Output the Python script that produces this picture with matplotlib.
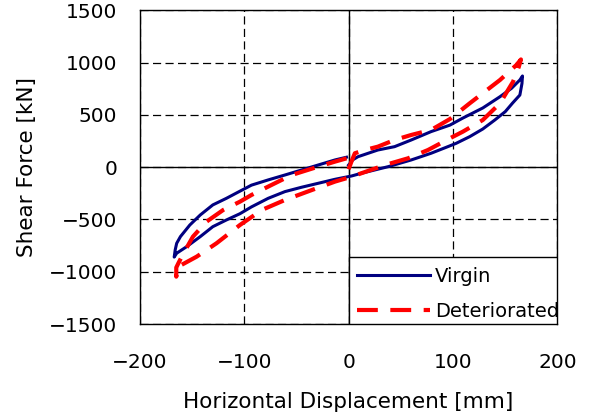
import matplotlib
matplotlib.use('Agg')
import matplotlib.pyplot as plt
from matplotlib.patches import Rectangle

# -----------------
# DATA
# ------------------
# Virgin - start v nule, nahoru doprava, dolni vetev doleva, zpet k nule
virgin_x = [0, 4, 9, 28, 44, 60, 79, 97, 109.5, 128.5, 145, 156, 164, 166.5,
            166, 164, 157, 150, 140, 128.5, 116, 103, 95, 79, 60, 38, 12, 3,
            -13, -29, -45, -61, -77, -93, -104, -117, -130, -142, -155, -164.6, -167,
            -166, -164.6, -161, -152, -142, -130, -117, -106, -93, -77, -61, -45,
            -29, -13, -2]
virgin_y = [20, 70, 100, 164, 196, 260, 340, 402, 470, 566, 674, 754, 834, 872,
            800, 690, 613, 531, 451, 365, 292, 228, 196, 133, 69, 5, -59, -84,
            -116, -154, -192, -234, -298, -380, -445, -505, -569, -664, -760, -823, -860,
            -790, -728, -664, -553, -457, -361, -298, -240, -172, -122, -75, -27,
            21, 69, 95]

# Deteriorated
deter_x = [0, 3, 6, 15.6, 28, 44, 60, 79, 97, 116, 128.5, 145, 160.7, 165,
           163, 157.5, 145, 128.5, 109.5, 97, 76, 57, 35, 12, 3, -13, -35, -61,
           -83, -104, -126.5, -145.5, -163, -165,
           -165, -163, -158, -149, -136, -120, -104, -93, -77, -54.5, -29, -13, 0]
deter_y = [-20, 60, 133, 164, 196, 260, 308, 356, 460, 611, 707, 834, 977, 1030,
           960, 818, 611, 451, 340, 276, 164, 85, 21, -59, -91, -138, -218, -314,
           -409, -553, -728, -856, -951, -1047,
           -960, -919, -823, -664, -521, -409, -330, -266, -186, -75, 5, 53, 90]

x_ticks = [-200, -100, 0, 100, 200]
y_ticks = [-1500, -1000, -500, 0, 500, 1000, 1500]

plt.rcParams['font.family'] = ['DejaVu Sans']

fig = plt.figure(figsize=(6.03, 4.19), dpi=100)
ax = fig.add_axes([0.2317, 0.2267, 0.6928, 0.7487])

# mrizka - carkovana, nuly plnou carou
for xv in x_ticks:
    ax.axvline(xv, color='black', lw=0.9, ls=(0, (6.5, 3.5)), zorder=1)
for yv in y_ticks:
    ax.axhline(yv, color='black', lw=0.9, ls=(0, (6.5, 3.5)), zorder=1)
ax.axvline(0, color='black', lw=1.0, zorder=1.5)
ax.axhline(0, color='black', lw=1.0, zorder=1.5)

ax.plot(virgin_x, virgin_y, color='#000080', lw=2.2, label='Virgin', zorder=3)
ax.plot(deter_x, deter_y, color='#FF0000', lw=3.0, ls=(0, (5, 3)),
        label='Deteriorated', zorder=4)

ax.set_xlim(-200, 200)
ax.set_ylim(-1500, 1500)
ax.set_xticks(x_ticks)
ax.set_yticks(y_ticks)
ax.tick_params(length=0, labelsize=14.5)
ax.tick_params(axis='x', pad=21)
ax.tick_params(axis='y', pad=16)

for s in ax.spines.values():
    s.set_color('black')
    s.set_linewidth(1.0)

ax.set_xlabel('Horizontal Displacement [mm]', fontsize=15.5, labelpad=14)
ax.set_ylabel('Shear Force [kN]', fontsize=15.5, labelpad=9)

# ramecek legendy - pravy dolni kvadrant
ax.add_patch(Rectangle((0.5, 0), 0.5, 0.2145, transform=ax.transAxes,
                       facecolor='white', edgecolor='black', lw=1.0, zorder=5))
leg = ax.legend(loc='upper left', bbox_to_anchor=(0.520, 0.183), borderaxespad=0,
                fontsize=14, handlelength=3.75, handletextpad=0.26,
                labelspacing=0.84, borderpad=0, frameon=False)
leg.set_zorder(6)

fig.savefig('out.png', dpi=100)
